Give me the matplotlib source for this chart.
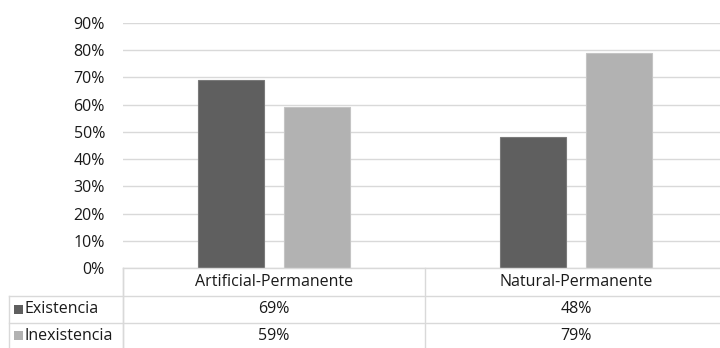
import numpy as np
import matplotlib.pyplot as plt
from matplotlib.lines import Line2D
from matplotlib.patches import Rectangle

plt.rcParams['font.family'] = ['Open Sans', 'DejaVu Sans']

categories = ['Artificial-Permanente', 'Natural-Permanente']
series_names = ['Existencia', 'Inexistencia']
existencia = [0.69, 0.48]
inexistencia = [0.59, 0.79]
colors = ['#5f5f5f', '#b2b2b2']
edges = ['#7a7a7a', '#c4c4c4']
yticks = [0, 0.1, 0.2, 0.3, 0.4, 0.5, 0.6, 0.7, 0.8, 0.9]

W, H = 720, 348
FS = 11.5
TXT = '#1a1a1a'
fig = plt.figure(figsize=(W / 100, H / 100), dpi=100)

# plot area in pixel coordinates (top-left origin)
left_px, right_px = 123, 727
top_px, bottom_px = 23, 268
ax = fig.add_axes([left_px / W, 1 - bottom_px / H,
                   (right_px - left_px) / W, (bottom_px - top_px) / H])

x = np.arange(len(categories))
width = 0.22
offset = 0.143
for i, vals in enumerate([existencia, inexistencia]):
    ax.bar(x + (i * 2 - 1) * offset, vals, width, color=colors[i],
           edgecolor=edges[i], linewidth=0.8, zorder=3)

ax.set_xlim(-0.5, len(categories) - 0.5)
ax.set_ylim(0, 0.9)
ax.set_yticks(yticks)
ax.set_yticklabels([f'{int(round(v * 100))}%' for v in yticks],
                   fontsize=FS, color=TXT)
ax.tick_params(axis='y', length=0, pad=13)
ax.set_xticks([])
ax.grid(axis='y', color='#d9d9d9', linewidth=1, zorder=0)
for s in ax.spines.values():
    s.set_visible(False)

# data table below the plot area
line_c = '#d9d9d9'
row_h = 26.5
header_top = bottom_px
header_bot = header_top + 28
rows_top = [header_bot + k * row_h for k in range(len(series_names))]
label_left = 9

def fy(py):
    return 1 - py / H

def fx(px):
    return px / W

def hline(py, x0, x1):
    fig.add_artist(Line2D([fx(x0), fx(x1)], [fy(py), fy(py)],
                          color=line_c, linewidth=1, transform=fig.transFigure))

def vline(px, y0, y1):
    fig.add_artist(Line2D([fx(px), fx(px)], [fy(y0), fy(y1)],
                          color=line_c, linewidth=1, transform=fig.transFigure))

cat_w = (right_px - left_px) / len(categories)
hline(header_top, left_px, right_px)
hline(header_bot, label_left, right_px)
for k in range(len(series_names)):
    hline(rows_top[k] + row_h, label_left, right_px)
vline(left_px, header_top, H + 5)
vline(label_left, header_bot, H + 5)
for j in range(len(categories) + 1):
    vline(left_px + j * cat_w, header_top, H + 5)

for j, c in enumerate(categories):
    fig.text(fx(left_px + (j + 0.5) * cat_w), fy((header_top + header_bot) / 2),
             c, ha='center', va='center', fontsize=FS, color=TXT)

for k, (name, vals) in enumerate(zip(series_names, [existencia, inexistencia])):
    cy = rows_top[k] + row_h / 2
    fig.add_artist(Rectangle((fx(14), fy(cy + 4.5)), 9 / W, 9 / H,
                             facecolor=colors[k], edgecolor='none',
                             transform=fig.transFigure))
    fig.text(fx(25), fy(cy), name, ha='left', va='center',
             fontsize=FS, color=TXT)
    for j, v in enumerate(vals):
        fig.text(fx(left_px + (j + 0.5) * cat_w), fy(cy), f'{int(round(v * 100))}%',
                 ha='center', va='center', fontsize=FS, color=TXT)

fig.savefig('out.png', dpi=100)
